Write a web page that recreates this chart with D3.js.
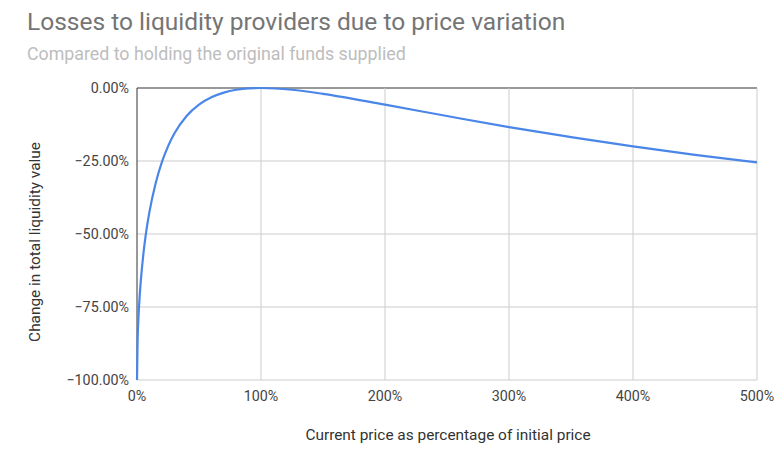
<!DOCTYPE html>
<html><head><meta charset="utf-8">
<script src="https://cdn.jsdelivr.net/npm/d3@7"></script>
<style>body{margin:0;background:#fff;font-family:Roboto,Arial,sans-serif}</style>
</head><body><svg id="c" width="784" height="461"></svg>
<script>
const priceRatio = [0,0.5,1,2,3,5,7,10,15,20,25,30,40,50,60,70,80,90,100,125,150,200,250,300,350,400,450,500];
const lossPct   = [-100,-86,-80.2,-72.3,-66.4,-57.4,-50.5,-42.5,-32.7,-25.5,-20,-15.7,-9.6,-5.7,-3.2,-1.6,-0.6,-0.1,0,-0.6,-2.0,-5.7,-9.6,-13.4,-16.8,-20.0,-22.9,-25.5];
const xTicks = [0,100,200,300,400,500];
const yTicks = [0,-25,-50,-75,-100];

const svg = d3.select("#c");
const L=137,R=757,T=88,B=380;
const x = d3.scaleLinear().domain([0,500]).range([L,R]);
const y = d3.scaleLinear().domain([-100,0]).range([B,T]);

svg.append("text").attr("x",27).attr("y",30).attr("font-size",24.5).attr("fill","#757575").text("Losses to liquidity providers due to price variation");
svg.append("text").attr("x",27).attr("y",60).attr("font-size",17.8).attr("fill","#bdbdbd").text("Compared to holding the original funds supplied");

const g = svg.append("g");
yTicks.forEach(t=>{
  g.append("line").attr("x1",L).attr("x2",R).attr("y1",y(t)).attr("y2",y(t)).attr("stroke",t===0?"#333":"#ccc");
  g.append("text").attr("x",L-8).attr("y",y(t)+5).attr("text-anchor","end").attr("font-size",14.3).attr("fill","#444").text(d3.format(".2f")(t)+"%");
});
xTicks.forEach(t=>{
  if(t>0) g.append("line").attr("x1",x(t)).attr("x2",x(t)).attr("y1",T).attr("y2",B).attr("stroke","#ccc");
  g.append("text").attr("x",x(t)).attr("y",B+21).attr("text-anchor","middle").attr("font-size",14.3).attr("fill","#444").text(t+"%");
});
g.append("line").attr("x1",L).attr("x2",L).attr("y1",T).attr("y2",B).attr("stroke","#333");

const data = priceRatio.map((p,i)=>[p,lossPct[i]]);
svg.append("path").datum(data).attr("fill","none").attr("stroke","#4a86e8").attr("stroke-width",2.2)
  .attr("d",d3.line().x(d=>x(d[0])).y(d=>y(d[1])).curve(d3.curveMonotoneX));

svg.append("text").attr("x",448).attr("y",440).attr("text-anchor","middle").attr("font-size",15.4).attr("fill","#333").text("Current price as percentage of initial price");
svg.append("text").attr("transform","translate(40,242) rotate(-90)").attr("text-anchor","middle").attr("font-size",15.4).attr("fill","#333").text("Change in total liquidity value");
</script></body></html>
